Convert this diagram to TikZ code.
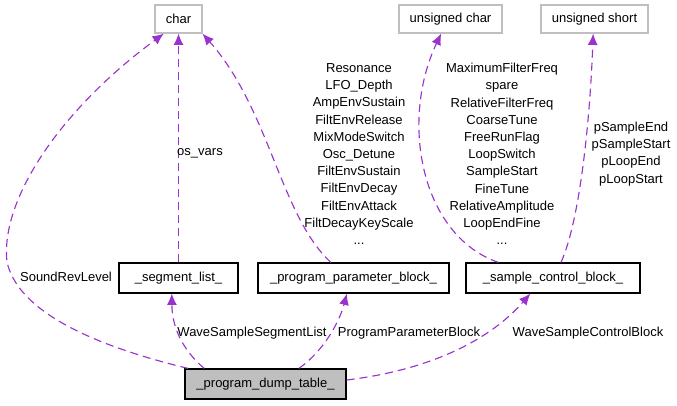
\documentclass[tikz,border=0pt]{standalone}
\usepackage{fontspec}
\setmainfont{Liberation Sans}
\usetikzlibrary{arrows.meta}
\definecolor{edgecol}{RGB}{154,50,205}
\definecolor{typegray}{RGB}{191,191,191}
\begin{document}
\begin{tikzpicture}[x=0.75pt,y=-0.75pt,
  every node/.style={font=\fontsize{9.75pt}{12.9pt}\selectfont, inner sep=0pt},
  typebox/.style={draw=typegray, line width=0.9pt, minimum height=21pt, fill=white},
  structbox/.style={draw=black, line width=0.9pt, minimum height=22.5pt, fill=white},
  rootbox/.style={draw=black, line width=0.9pt, minimum height=22.5pt, fill=typegray},
  edge/.style={draw=edgecol, line width=0.85pt, dash pattern=on 6pt off 3.75pt, -{Latex[length=8.5pt,width=7.5pt]}},
  lbl/.style={align=center, text=black}]
\useasboundingbox (0,0) rectangle (677,405);

\node[typebox, minimum width=35.25pt] (char) at (178.5,19) {char};
\node[typebox, minimum width=77.25pt] (uchar) at (450.5,19) {unsigned char};
\node[typebox, minimum width=80.25pt] (ushort) at (594.5,19) {unsigned short};
\node[structbox, minimum width=89.25pt] (seg) at (178.5,278) {\_segment\_list\_};
\node[structbox, minimum width=143.25pt] (param) at (353.5,278) {\_program\_parameter\_block\_};
\node[structbox, minimum width=130.5pt] (sample) at (553,278) {\_sample\_control\_block\_};
\node[rootbox, minimum width=120.75pt] (dump) at (265.5,384) {\_program\_dump\_table\_};

% edges
\draw[edge] ([xshift=-58pt]dump.north) .. controls (120,352) and (20,320) .. (7,262)
   .. controls (0,200) and (60,110) .. ([xshift=-11pt]char.south);
\draw[edge] ([xshift=-46pt]dump.north) .. controls (185,352) and (172,330) .. ([xshift=-5pt]seg.south);
\draw[edge] (seg.north) -- (char.south);
\draw[edge] ([xshift=25pt]dump.north) .. controls (325,350) and (340,320) .. ([xshift=-5pt]param.south);
\draw[edge] ([xshift=-17pt]param.north) .. controls (280,215) and (270,110) .. ([xshift=18pt]char.south);
\draw[edge] ([yshift=3pt]dump.east) .. controls (430,370) and (490,340) .. ([xshift=-17pt]sample.south);
\draw[edge] ([xshift=-41pt]sample.north) .. controls (420,235) and (400,120) .. ([xshift=-7pt]uchar.south);
\draw[edge] ([xshift=6pt]sample.north) .. controls (580,220) and (590,120) .. ([xshift=-1pt]ushort.south);

% labels
\node[lbl] (lsound) at (66,277) {SoundRevLevel};
\node[lbl] (los) at (200,153) {os\_vars};
\node[lbl] (lwss) at (252,333) {WaveSampleSegmentList};
\node[lbl] (lppb) at (409,333) {ProgramParameterBlock};
\node[lbl] (lwscb) at (588,333) {WaveSampleControlBlock};
\node[lbl] (lres) at (359,154) {Resonance\\LFO\_Depth\\AmpEnvSustain\\FiltEnvRelease\\MixModeSwitch\\Osc\_Detune\\FiltEnvSustain\\FiltEnvDecay\\FiltEnvAttack\\FiltDecayKeyScale\\...};
\node[lbl] (lmax) at (502,154) {MaximumFilterFreq\\spare\\RelativeFilterFreq\\CoarseTune\\FreeRunFlag\\LoopSwitch\\SampleStart\\FineTune\\RelativeAmplitude\\LoopEndFine\\...};
\node[lbl] (lps) at (631,154) {pSampleEnd\\pSampleStart\\pLoopEnd\\pLoopStart};
\end{tikzpicture}
\end{document}
